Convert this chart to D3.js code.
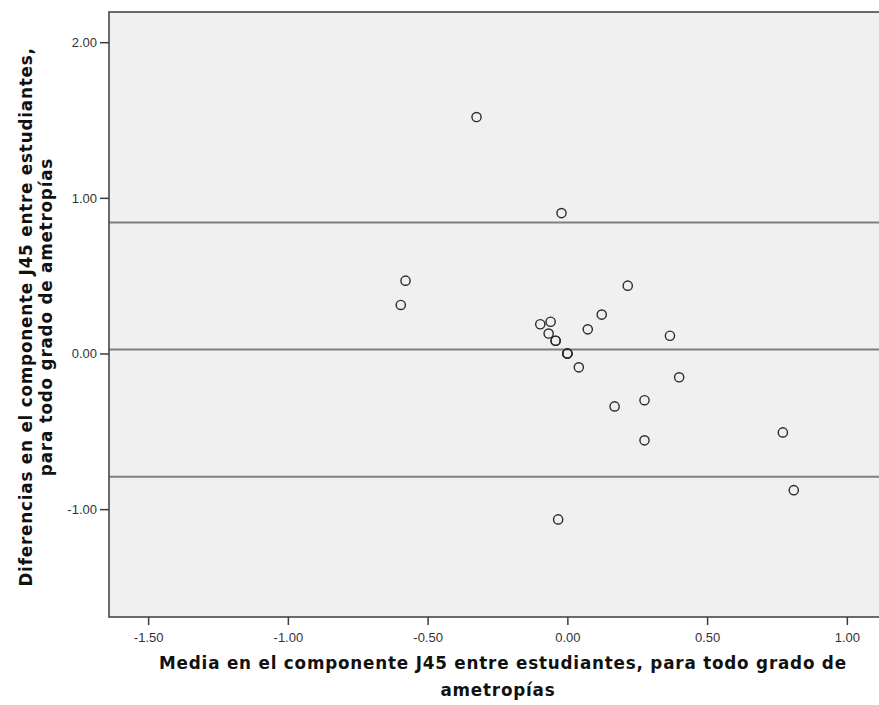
<!DOCTYPE html>
<html>
<head>
<meta charset="utf-8">
<script src="https://cdn.jsdelivr.net/npm/d3@7"></script>
<style>
  html, body { margin: 0; padding: 0; background: #fff; }
  svg { display: block; }
</style>
</head>
<body>
<svg id="chart" width="879" height="705"></svg>
<script>
// Bland-Altman: mean of the two J45 measurements vs. their difference
const meanJ45 = [-0.325, -0.021, -0.579, -0.596, -0.097, -0.060, -0.067, -0.042, -0.042,
                 0.000, 0.000, 0.000, 0.041, 0.073, 0.123, 0.216, 0.367, 0.400,
                 0.169, 0.276, 0.276, 0.771, 0.810, -0.033];
const diffJ45 = [1.519, 0.902, 0.468, 0.312, 0.188, 0.204, 0.128, 0.082, 0.082,
                 0.000, 0.000, 0.000, -0.089, 0.155, 0.250, 0.436, 0.114, -0.153,
                 -0.340, -0.300, -0.558, -0.507, -0.878, -1.066];

// mean difference and limits of agreement
const refLines = [0.842, 0.025, -0.792];

const xTicks = [-1.5, -1.0, -0.5, 0.0, 0.5, 1.0];
const yTicks = [-1.0, 0.0, 1.0, 2.0];

const xDomain = [-1.64, 1.115];
const yDomain = [-1.693, 2.194];

const xTitle = ["Media en el componente J45 entre estudiantes, para todo grado de", "ametropías"];
const yTitle = ["Diferencias en el componente J45 entre estudiantes,", "para todo grado de ametropías"];

const svg = d3.select("#chart");
const plot = { left: 109, top: 12, right: 879, bottom: 617 };

const x = d3.scaleLinear().domain(xDomain).range([plot.left, plot.right]);
const y = d3.scaleLinear().domain(yDomain).range([plot.bottom, plot.top]);

// plot background
svg.append("rect")
  .attr("x", plot.left).attr("y", plot.top)
  .attr("width", plot.right - plot.left + 2)
  .attr("height", plot.bottom - plot.top)
  .attr("fill", "#f0f0f0");

// reference lines
svg.append("g").selectAll("line").data(refLines).join("line")
  .attr("x1", plot.left).attr("x2", plot.right + 2)
  .attr("y1", d => y(d)).attr("y2", d => y(d))
  .attr("stroke", "#7f7f7f").attr("stroke-width", 2);

// frame (top, left, bottom)
svg.append("path")
  .attr("d", `M${plot.right + 2},${plot.top}H${plot.left}V${plot.bottom}H${plot.right + 2}`)
  .attr("fill", "none").attr("stroke", "#3c3c3c").attr("stroke-width", 1.5);

// axes — plain hyphen for negative numbers
const locale = d3.formatLocale({ decimal: ".", thousands: ",", grouping: [3], currency: ["", ""], minus: "-" });
const fmt = locale.format(".2f");
const xAxis = svg.append("g")
  .attr("transform", `translate(0,${plot.bottom})`)
  .call(d3.axisBottom(x).tickValues(xTicks).tickFormat(fmt).tickSize(8).tickPadding(8));
const yAxis = svg.append("g")
  .attr("transform", `translate(${plot.left},0)`)
  .call(d3.axisLeft(y).tickValues(yTicks).tickFormat(fmt).tickSize(9).tickPadding(3));

[xAxis, yAxis].forEach(a => {
  a.select(".domain").remove();
  a.selectAll(".tick line").attr("stroke", "#3c3c3c").attr("stroke-width", 1.5);
  a.selectAll(".tick text")
    .attr("fill", "#333")
    .style("font-family", "'Liberation Sans', Arial, sans-serif")
    .style("font-size", "13px");
});

// points
svg.append("g").selectAll("circle").data(meanJ45.map((m, i) => [m, diffJ45[i]])).join("circle")
  .attr("cx", d => x(d[0])).attr("cy", d => y(d[1]))
  .attr("r", 4.6)
  .attr("fill", "none").attr("stroke", "#2a2a2a").attr("stroke-width", 1.4);

// axis titles
const titleFont = "'DejaVu Sans', Verdana, sans-serif";
const styleTitle = sel => sel
  .style("font-family", titleFont).style("font-weight", "bold")
  .style("font-size", "16.8px").style("letter-spacing", "0.8px")
  .attr("fill", "#111");

svg.append("text")
  .attr("text-anchor", "middle")
  .call(styleTitle)
  .selectAll("tspan").data(xTitle).join("tspan")
  .attr("x", (d, i) => i === 0 ? 503 : 498)
  .attr("y", (d, i) => i === 0 ? 669 : 696)
  .text(d => d);

svg.append("text")
  .attr("transform", "translate(0,317) rotate(-90)")
  .attr("text-anchor", "middle")
  .call(styleTitle)
  .selectAll("tspan").data(yTitle).join("tspan")
  .attr("x", 0)
  .attr("y", (d, i) => i === 0 ? 32 : 52)
  .text(d => d);
</script>
</body>
</html>
